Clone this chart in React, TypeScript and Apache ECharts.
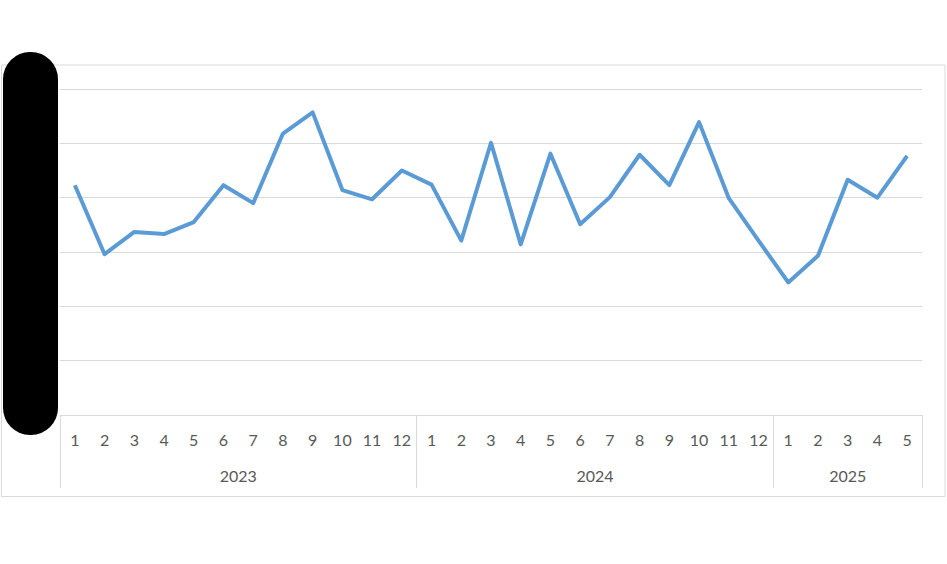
import React, { useEffect, useRef } from 'react';
import * as echarts from 'echarts';

// months shown per year (multi-level category axis)
const years = ['2023', '2024', '2025'];
const months2023 = ['1', '2', '3', '4', '5', '6', '7', '8', '9', '10', '11', '12'];
const months2024 = ['1', '2', '3', '4', '5', '6', '7', '8', '9', '10', '11', '12'];
const months2025 = ['1', '2', '3', '4', '5'];

// values (y labels are hidden, unit = one gridline step)
const values2023 = [4.23, 2.96, 3.37, 3.33, 3.55, 4.23, 3.9, 5.18, 5.57, 4.14, 3.97, 4.5];
const values2024 = [4.24, 3.21, 5.01, 3.14, 4.81, 3.51, 4.01, 4.79, 4.23, 5.39, 3.99, 3.21];
const values2025 = [2.44, 2.93, 4.33, 4.0, 4.77];

const FONT = 'Lato, "Open Sans", sans-serif';
const GRAY = '#d9d9d9';
const TEXT = '#595959';

const App: React.FC = () => {
  const chartRef = useRef<HTMLDivElement>(null);

  useEffect(() => {
    const chart = echarts.init(chartRef.current, null, { renderer: 'svg' });

    const monthGroups = [months2023, months2024, months2025];
    const categories = monthGroups.flat();
    const values = [...values2023, ...values2024, ...values2025];

    // year boundaries and centres in category units
    const bounds = [0];
    monthGroups.forEach(g => bounds.push(bounds[bounds.length - 1] + g.length));
    const centers = years.map((_, i) => (bounds[i] + bounds[i + 1]) / 2);
    const total = categories.length;

    const option = {
      animation: false,
      textStyle: { fontFamily: FONT },
      grid: { left: 60, right: 25, top: 89, bottom: 149 },
      graphic: [
        {
          type: 'rect',
          shape: { x: 1.5, y: 65, width: 943.5, height: 431.5 },
          style: { fill: 'none', stroke: GRAY, lineWidth: 1 },
          z: -1,
        },
        {
          type: 'rect',
          shape: { x: 3, y: 52, width: 55, height: 383, r: 27 },
          style: { fill: '#000000' },
          z: 100,
        },
      ],
      xAxis: [
        {
          type: 'category',
          data: categories,
          boundaryGap: true,
          axisLine: { show: true, lineStyle: { color: GRAY, width: 1 } },
          axisTick: { show: false },
          axisLabel: {
            interval: 0,
            color: TEXT,
            fontSize: 16,
            fontFamily: FONT,
            margin: 16,
          },
        },
        {
          type: 'value',
          min: 0,
          max: total,
          position: 'bottom',
          axisLine: { show: false },
          splitLine: { show: false },
          axisTick: {
            show: true,
            customValues: bounds,
            length: 73,
            lineStyle: { color: GRAY, width: 1 },
          },
          axisLabel: {
            customValues: centers,
            color: TEXT,
            fontSize: 16,
            fontFamily: FONT,
            margin: 52,
            formatter: (v: number) => {
              const i = centers.findIndex(c => Math.abs(c - v) < 0.01);
              return i >= 0 ? years[i] : '';
            },
          },
        },
      ],
      yAxis: {
        type: 'value',
        min: 0,
        max: 6,
        interval: 1,
        axisLine: { show: false },
        axisTick: { show: false },
        axisLabel: { show: false },
        splitLine: { lineStyle: { color: GRAY, width: 1 } },
      },
      series: [
        {
          type: 'line',
          data: values,
          xAxisIndex: 0,
          symbol: 'none',
          lineStyle: { color: '#5B9BD5', width: 4, join: 'round' },
          itemStyle: { color: '#5B9BD5' },
        },
      ],
    };

    chart.setOption(option);

    return () => {
      chart.dispose();
    };
  }, []);

  return (
    <div
      ref={chartRef}
      style={{ position: 'absolute', left: 0, top: 0, width: '947px', height: '564px', background: '#fff' }}
    />
  );
};

export default App;
